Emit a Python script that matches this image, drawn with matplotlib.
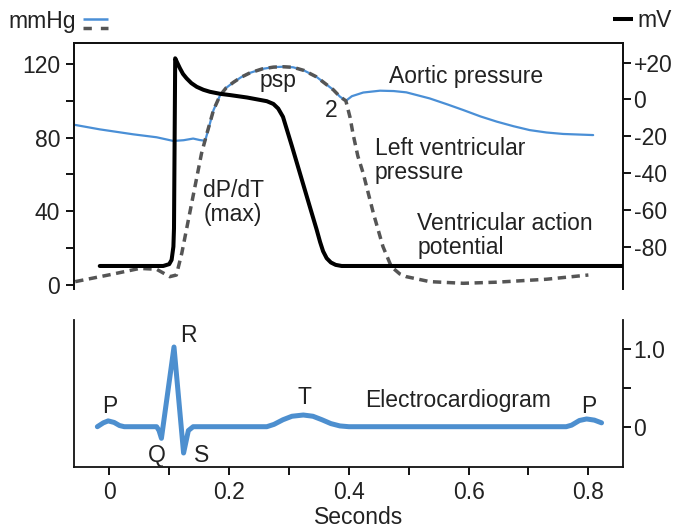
import matplotlib
matplotlib.use("Agg")
import matplotlib.pyplot as plt
from matplotlib.lines import Line2D
from matplotlib.ticker import FixedLocator

plt.rcParams['font.family'] = ['Liberation Sans', 'DejaVu Sans']
plt.rcParams['lines.scale_dashes'] = False
plt.rcParams['lines.solid_capstyle'] = 'round'

TXT = '#222222'
BLUE = '#4a8fd6'
ECG_BLUE = '#4d8fcf'
GRAY = '#555555'
FS = 16.5

# ---------------- data ----------------
# Aortic pressure (mmHg)
aortic_t = [-0.057, -0.016, 0.040, 0.079, 0.107, 0.124, 0.140, 0.151, 0.160, 0.165, 0.174,
            0.185, 0.195, 0.207, 0.220, 0.235, 0.255, 0.274, 0.290, 0.307, 0.325, 0.346,
            0.362, 0.374, 0.385, 0.395, 0.405, 0.424, 0.452, 0.475, 0.496, 0.535, 0.565,
            0.591, 0.620, 0.647, 0.675, 0.702, 0.730, 0.758, 0.808]
aortic_p = [86.9, 84.5, 81.8, 80.2, 78.2, 78.6, 79.5, 78.7, 78.3, 84.0, 95.0,
            103.0, 107.0, 110.0, 112.8, 115.2, 117.3, 118.3, 118.5, 118.2, 116.5, 113.0,
            109.0, 106.0, 102.3, 100.0, 102.5, 104.5, 105.5, 105.3, 104.6, 101.3, 98.0,
            95.0, 91.5, 88.7, 86.2, 84.1, 82.8, 82.0, 81.4]

# Left ventricular pressure (mmHg)
lv_t = [-0.057, 0.000, 0.051, 0.079, 0.101, 0.112, 0.121, 0.132, 0.143, 0.154, 0.163,
        0.174, 0.185, 0.195, 0.207, 0.220, 0.235, 0.255, 0.274, 0.290, 0.307, 0.325,
        0.346, 0.362, 0.374, 0.385, 0.395, 0.402, 0.407, 0.415, 0.424, 0.441, 0.457,
        0.471, 0.485, 0.496, 0.535, 0.591, 0.647, 0.730, 0.800]
lv_p = [1.8, 5.5, 9.0, 8.5, 4.5, 5.4, 17.2, 35.3, 53.4, 71.5, 82.3,
        95.0, 103.0, 107.0, 110.0, 112.8, 115.2, 117.3, 118.3, 118.5, 118.2, 116.5,
        113.0, 109.0, 106.0, 102.3, 100.0, 91.0, 82.0, 70.0, 60.6, 38.9, 20.8,
        9.9, 6.0, 4.5, 1.8, 0.9, 1.5, 3.1, 5.4]

# Ventricular action potential (mV)
ap_t = [-0.016, 0.090, 0.100, 0.104, 0.107, 0.108, 0.110, 0.114, 0.118, 0.123, 0.129,
        0.137, 0.146, 0.157, 0.168, 0.185, 0.202, 0.230, 0.263, 0.274, 0.282, 0.290,
        0.305, 0.320, 0.335, 0.346, 0.352, 0.357, 0.363, 0.370, 0.378, 0.388, 0.857]
ap_mv = [-90.5, -90.5, -89.5, -87.2, -80.0, -70.0, 22.3, 19.5, 16.8, 13.8, 11.4,
         8.8, 6.8, 5.2, 4.1, 3.0, 2.3, 1.0, -1.0, -2.5, -5.0, -9.5,
         -25.5, -42.0, -58.5, -70.5, -77.5, -82.5, -86.3, -88.6, -89.9, -90.5, -90.5]

# Electrocardiogram (mV)
ecg_t = [-0.020, -0.010, -0.002, 0.008, 0.017, 0.025, 0.035, 0.079, 0.083, 0.087, 0.108,
         0.124, 0.132, 0.140, 0.263, 0.275, 0.290, 0.305, 0.324, 0.340, 0.355, 0.370,
         0.385, 0.400, 0.763, 0.772, 0.785, 0.797, 0.810, 0.822]
ecg_v = [0.0, 0.05, 0.075, 0.055, 0.015, 0.0, 0.0, 0.0, -0.05, -0.15, 1.03,
         -0.34, -0.05, 0.0, 0.0, 0.03, 0.09, 0.135, 0.151, 0.135, 0.09, 0.04,
         0.01, 0.0, 0.0, 0.02, 0.08, 0.10, 0.085, 0.05]

x_ticks = [0, 0.2, 0.4, 0.6, 0.8]
x_tick_labels = ['0', '0.2', '0.4', '0.6', '0.8']
mmhg_ticks = [0, 40, 80, 120]
mv_ticks = [-80, -60, -40, -20, 0, 20]
mv_tick_labels = ['-80', '-60', '-40', '-20', '0', '+20']
ecg_ticks = [0, 1.0]
ecg_tick_labels = ['0', '1.0']

# ---------------- figure ----------------
W, H = 674, 529
fig = plt.figure(figsize=(W / 100, H / 100), dpi=100)

XMIN, XMAX = -0.059, 0.857
MV_OFFSET = 100.8

def fx(px):
    return px / W

def fy(py):
    return 1 - py / H

l, r = 74, 622.5
ax1 = fig.add_axes([fx(l), fy(289), fx(r) - fx(l), fy(43) - fy(289)])
ax1r = ax1.twinx()
ax2 = fig.add_axes([fx(l), fy(466.7), fx(r) - fx(l), fy(320) - fy(466.7)])

SPW = 1.3
for ax in (ax1, ax1r, ax2):
    for s in ax.spines.values():
        s.set_linewidth(SPW)
        s.set_color('#111111')
    ax.set_xlim(XMIN, XMAX)

# top panel
ax1.plot(aortic_t, aortic_p, color=BLUE, lw=1.6, zorder=2)
ax1.plot(lv_t, lv_p, color=GRAY, lw=2.5, dashes=(6, 4), zorder=3)
ax1r.plot(ap_t, ap_mv, color='black', lw=2.9, zorder=4, solid_joinstyle='round')

ylo, yhi = -2.2, 131.4
ax1.set_ylim(ylo, yhi)
ax1r.set_ylim(ylo - MV_OFFSET, yhi - MV_OFFSET)

ax1.spines['bottom'].set_visible(False)
ax1r.spines['bottom'].set_visible(False)
ax1.set_xticks([])
ax1r.set_xticks([])
ax1.yaxis.set_major_locator(FixedLocator(mmhg_ticks))
ax1.yaxis.set_minor_locator(FixedLocator([20, 60, 100]))
ax1.tick_params(axis='y', which='both', length=6, width=SPW, direction='out',
                labelsize=FS, labelcolor=TXT, pad=4)
ax1r.set_yticks(mv_ticks)
ax1r.set_yticklabels(mv_tick_labels)
ax1r.tick_params(axis='y', which='both', length=6, width=SPW, direction='out',
                 labelsize=FS, labelcolor=TXT, pad=2)

# annotations top
ax1.text(0.282, 111.3, 'psp', fontsize=FS, color=TXT, ha='center', va='center')
ax1.text(0.371, 94.5, '2', fontsize=FS, color=TXT, ha='center', va='center')
ax1.text(0.595, 113.1, 'Aortic pressure', fontsize=FS, color=TXT, ha='center', va='center')
ax1.text(0.4436, 67.4, 'Left ventricular\npressure', fontsize=FS, color=TXT,
         ha='left', va='center', linespacing=1.05)
ax1.text(0.514, 26.9, 'Ventricular action\npotential', fontsize=FS, color=TXT,
         ha='left', va='center', linespacing=1.05)
ax1.text(0.157, 44.8, 'dP/dT\n(max)', fontsize=FS, color=TXT,
         ha='left', va='center', linespacing=1.05)

# bottom panel
ax2.plot(ecg_t, ecg_v, color=ECG_BLUE, lw=3.6, solid_joinstyle='round')
ax2.set_ylim(-0.517, 1.379)
ax2.spines['top'].set_visible(False)
ax2.yaxis.tick_right()
ax2.yaxis.set_major_locator(FixedLocator(ecg_ticks))
ax2.yaxis.set_major_formatter(plt.FixedFormatter(ecg_tick_labels))
ax2.yaxis.set_minor_locator(FixedLocator([0.5]))
ax2.tick_params(axis='y', which='both', left=False, right=True, length=6, width=SPW,
                labelsize=FS, labelcolor=TXT, pad=2)
ax2.set_xticks(x_ticks)
ax2.set_xticklabels(x_tick_labels)
ax2.xaxis.set_minor_locator(FixedLocator([0.1, 0.3, 0.5, 0.7]))
ax2.tick_params(axis='x', which='both', length=6, width=SPW, labelsize=FS,
                labelcolor=TXT, pad=4)
ax2.set_xlabel('Seconds', fontsize=FS, color=TXT)
ax2.xaxis.set_label_coords(0.518, -0.27)

for txt, x, y in [('P', 0.0, 0.26), ('R', 0.132, 1.18), ('Q', 0.079, -0.366),
                  ('S', 0.154, -0.366), ('T', 0.326, 0.38),
                  ('Electrocardiogram', 0.583, 0.345), ('P', 0.800, 0.267)]:
    ax2.text(x, y, txt, fontsize=FS, color=TXT, ha='center', va='center')

# header keys
fig.text(fx(8), fy(28.3), 'mmHg', fontsize=FS, color=TXT, ha='left', va='baseline')
fig.add_artist(Line2D([fx(83), fx(108)], [fy(19), fy(19)], color=BLUE, lw=1.8,
                      transform=fig.transFigure, solid_capstyle='butt'))
fig.add_artist(Line2D([fx(83), fx(108)], [fy(28.3), fy(28.3)], color=GRAY, lw=2.5,
                      dashes=(6, 6.5), transform=fig.transFigure, dash_capstyle='butt'))
fig.add_artist(Line2D([fx(613), fx(633)], [fy(19.3), fy(19.3)], color='black', lw=2.9,
                      transform=fig.transFigure, solid_capstyle='butt'))
fig.text(fx(637), fy(27.5), 'mV', fontsize=FS, color=TXT, ha='left', va='baseline')

fig.savefig('out.png', dpi=100)
